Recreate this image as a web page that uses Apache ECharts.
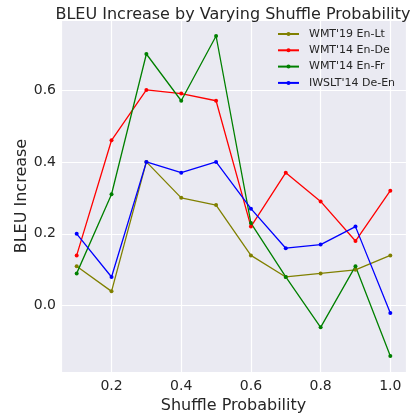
<!DOCTYPE html>
<html>
<head>
<meta charset="utf-8">
<script src="https://cdn.jsdelivr.net/npm/echarts@6/dist/echarts.min.js"></script>
<style>
  html, body { margin: 0; padding: 0; background: #fff; }
  #chart { width: 417px; height: 419px; }
</style>
</head>
<body>
<div id="chart"></div>
<script>
// shuffle probability on x
const probs = [0.1, 0.2, 0.3, 0.4, 0.5, 0.6, 0.7, 0.8, 0.9, 1.0];

// BLEU increase per dataset
const enLt19 = [0.11, 0.04, 0.40, 0.30, 0.28, 0.14, 0.08, 0.09, 0.10, 0.14];
const enDe14 = [0.14, 0.46, 0.60, 0.59, 0.57, 0.22, 0.37, 0.29, 0.18, 0.32];
const enFr14 = [0.09, 0.31, 0.70, 0.57, 0.75, 0.23, 0.08, -0.06, 0.11, -0.14];
const deEn14 = [0.20, 0.08, 0.40, 0.37, 0.40, 0.27, 0.16, 0.17, 0.22, -0.02];

const seriesNames = ["WMT'19 En-Lt", "WMT'14 En-De", "WMT'14 En-Fr", "IWSLT'14 De-En"];
const seriesColors = ["#808000", "#ff0000", "#008000", "#0000ff"];
const seriesData = [enLt19, enDe14, enFr14, deEn14];

const textColor = "#262626";
const font = "DejaVu Sans";

// only label the multiples of 0.2
function tickLabel(v) {
  return Math.abs(v * 5 - Math.round(v * 5)) < 1e-6 ? v.toFixed(1) : "";
}

let myChart = echarts.init(document.getElementById("chart"));

let option = {
  backgroundColor: "#ffffff",
  animation: false,
  title: {
    text: "BLEU Increase by Varying Shuffle Probability",
    left: 228,
    textAlign: "center",
    top: 2,
    textStyle: { fontFamily: font, fontSize: 16, fontWeight: "normal", color: textColor }
  },
  legend: {
    orient: "vertical",
    left: 277,
    top: 28,
    padding: 0,
    itemWidth: 21,
    itemHeight: 5,
    itemGap: 4.3,
    textStyle: { fontFamily: font, fontSize: 11, lineHeight: 12, color: textColor, padding: [0, 0, 0, 5] },
    data: seriesNames
  },
  grid: {
    left: 61,
    right: 11,
    top: 20,
    bottom: 44,
    show: true,
    backgroundColor: "#EAEAF2",
    borderWidth: 0
  },
  xAxis: {
    type: "value",
    min: 0.055,
    max: 1.045,
    splitNumber: 5,
    name: "Shuffle Probability",
    nameLocation: "middle",
    nameGap: 25,
    nameTextStyle: { fontFamily: font, fontSize: 16, color: textColor },
    axisLine: { show: false },
    axisTick: { show: false },
    axisLabel: { fontFamily: font, fontSize: 14, color: textColor, margin: 7, formatter: tickLabel },
    splitLine: { show: true, lineStyle: { color: "#ffffff", width: 1.2 } }
  },
  yAxis: {
    type: "value",
    min: -0.1845,
    max: 0.7945,
    splitNumber: 5,
    name: "BLEU Increase",
    nameLocation: "middle",
    nameGap: 31,
    nameMoveOverlap: false,
    nameTextStyle: { fontFamily: font, fontSize: 16, color: textColor },
    axisLine: { show: false },
    axisTick: { show: false },
    axisLabel: { fontFamily: font, fontSize: 14, color: textColor, margin: 5, formatter: tickLabel },
    splitLine: { show: true, lineStyle: { color: "#ffffff", width: 1.2 } }
  },
  series: seriesNames.map(function (name, i) {
    return {
      name: name,
      type: "line",
      data: probs.map(function (p, j) { return [p, seriesData[i][j]]; }),
      color: seriesColors[i],
      symbol: "circle",
      symbolSize: 4,
      showSymbol: true,
      lineStyle: { width: 1.3 },
      emphasis: { disabled: true }
    };
  })
};

myChart.setOption(option);
</script>
</body>
</html>
